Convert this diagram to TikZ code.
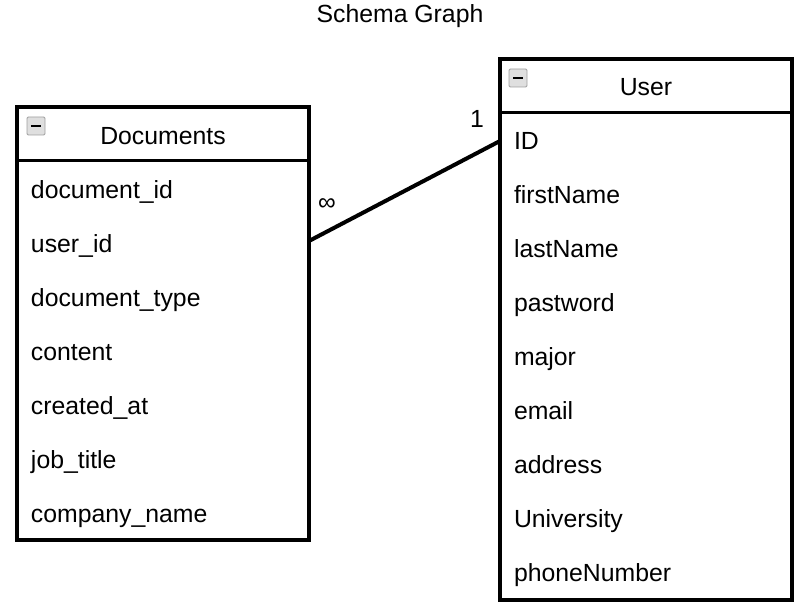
\documentclass[tikz,border=0pt]{standalone}
\usepackage{fontspec}
\setmainfont{Liberation Sans}
\usetikzlibrary{positioning}
\tikzset{tbl/.style={draw, line width=2pt, inner sep=0pt, outer sep=0pt, anchor=north west}}
\tikzset{div/.style={line width=1.5pt}}
\tikzset{link/.style={line width=2pt}}
\tikzset{field/.style={inner xsep=7pt, inner ysep=0pt, outer sep=0pt, text width=132pt, minimum height=27pt, text height=11pt, text depth=2pt, align=left}}
\tikzset{head/.style={anchor=base}}
\tikzset{icon/.style={draw=gray!75, fill=gray!25, rounded corners=0.6pt, minimum size=9pt, inner sep=0pt}}

\begin{document}
\begin{tikzpicture}[x=0.5pt, y=-0.5pt, font=\fontsize{12.4}{14}\selectfont]
\useasboundingbox (0,0) rectangle (810,613);
\node[head] (title) at (400,23) {Schema Graph};
%
\node[tbl, minimum width=146pt, minimum height=216.5pt] (docs) at (17,107) {};
\coordinate (docsdiv) at (17,161);
\draw[div] (docsdiv) -- (docsdiv -| docs.east);
\node[icon] (docsicon) at (36,126) {\rule{5pt}{1.1pt}};
\node[head] (docshead) at (163,145) {Documents};
\node[field, anchor=north west] (d1) at ([yshift=-1pt]docsdiv) {document\_id};
\node[field, below=0pt of d1] (d2) {user\_id};
\node[field, below=0pt of d2] (d3) {document\_type};
\node[field, below=0pt of d3] (d4) {content};
\node[field, below=0pt of d4] (d5) {created\_at};
\node[field, below=0pt of d5] (d6) {job\_title};
\node[field, below=0pt of d6] (d7) {company\_name};
%
\node[tbl, minimum width=146pt, minimum height=270.5pt] (user) at (500,59) {};
\coordinate (userdiv) at (500,113);
\draw[div] (userdiv) -- (userdiv -| user.east);
\node[icon] (usericon) at (518,78) {\rule{5pt}{1.1pt}};
\node[head] (userhead) at (646,96) {User};
\node[field, anchor=north west] (u1) at ([yshift=-0.5pt]userdiv) {ID};
\node[field, below=0pt of u1] (u2) {firstName};
\node[field, below=0pt of u2] (u3) {lastName};
\node[field, below=0pt of u3] (u4) {pastword};
\node[field, below=0pt of u4] (u5) {major};
\node[field, below=0pt of u5] (u6) {email};
\node[field, below=0pt of u6] (u7) {address};
\node[field, below=0pt of u7] (u8) {University};
\node[field, below=0pt of u8] (u9) {phoneNumber};
%
\coordinate (docsend) at ([yshift=1.5pt]docs.east |- d2);
\draw[link] (docsend) -- (user.west |- u1);
\node (many) at (327,205) {∞};
\node[head] (one) at (477,128) {1};
\end{tikzpicture}
\end{document}
